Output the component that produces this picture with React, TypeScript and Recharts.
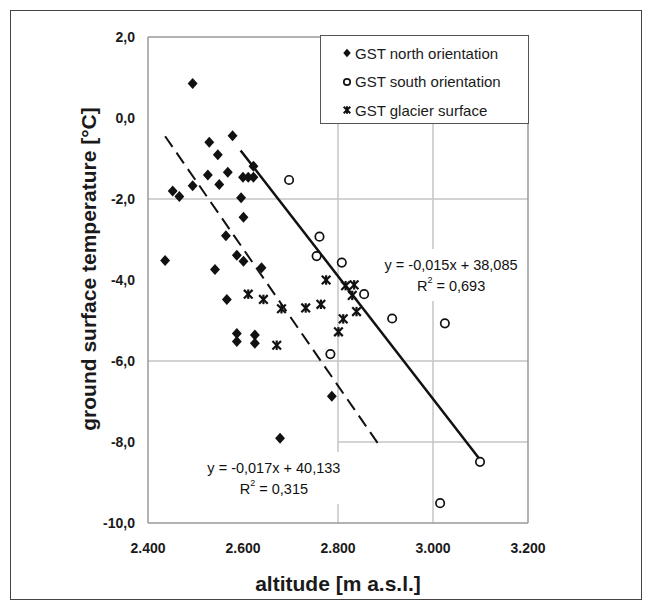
import { ScatterChart, Scatter, XAxis, YAxis, CartesianGrid, ReferenceLine, ReferenceDot, Legend } from 'recharts'

const FONT = '"Liberation Sans", Arial, sans-serif'

// ── data ─────────────────────────────────────────────────────────────────────

const xTicks = [2400, 2600, 2800, 3000, 3200]
const yTicks = [-10, -8, -6, -4, -2, 0, 2]

const northAlt = [2494, 2578, 2529, 2547, 2622, 2568, 2526, 2550, 2494, 2600, 2611, 2622, 2452, 2466, 2596,
  2601, 2564, 2436, 2587, 2601, 2541, 2639, 2566, 2587, 2587, 2625, 2625, 2787, 2678]
const northGst = [0.85, -0.44, -0.6, -0.91, -1.19, -1.34, -1.41, -1.64, -1.67, -1.46, -1.46, -1.46, -1.8, -1.94, -1.97,
  -2.45, -2.91, -3.52, -3.39, -3.54, -3.74, -3.7, -4.48, -5.32, -5.52, -5.36, -5.56, -6.87, -7.91]

const southAlt = [2697, 2761, 2755, 2808, 2855, 2914, 3025, 2784, 3099, 3015]
const southGst = [-1.53, -2.93, -3.41, -3.57, -4.35, -4.95, -5.07, -5.83, -8.49, -9.51]

const glacierAlt = [2611, 2643, 2681, 2732, 2764, 2775, 2816, 2834, 2830, 2839, 2811, 2801, 2671]
const glacierGst = [-4.35, -4.48, -4.71, -4.69, -4.6, -4.0, -4.14, -4.12, -4.38, -4.78, -4.96, -5.28, -5.61]

// linear trend lines as drawn (end points)
const northTrendAlt = [2436, 2888]
const northTrendGst = [-0.45, -8.1]
const southTrendAlt = [2595, 3100]
const southTrendGst = [-0.8, -8.45]

const seriesNames = ['GST north orientation', 'GST south orientation', 'GST glacier surface']

const eqText = ['y = -0,015x + 38,085', 'y = -0,017x + 40,133']
const r2Text = ['0,693', '0,315']
const eqAlt = [3038, 2665]
const eqGst = [-3.63, -8.64]

const zip = (xs: number[], ys: number[]) => xs.map((x, i) => ({ x, y: ys[i] }))

const northData = zip(northAlt, northGst)
const southData = zip(southAlt, southGst)
const glacierData = zip(glacierAlt, glacierGst)
const northTrend = zip(northTrendAlt, northTrendGst)
const southTrend = zip(southTrendAlt, southTrendGst)

const fmtAlt = (v: number) => v.toLocaleString('de-DE')
const fmtGst = (v: number) => v.toFixed(1).replace('.', ',')

// ── markers ──────────────────────────────────────────────────────────────────

function diamond(cx: number, cy: number, s: number) {
  return <polygon points={`${cx},${cy - s} ${cx + s * 0.9},${cy} ${cx},${cy + s} ${cx - s * 0.9},${cy}`} fill="#111" />
}
function ring(cx: number, cy: number, r: number) {
  return <circle cx={cx} cy={cy} r={r} fill="#fff" stroke="#111" strokeWidth={1.7} />
}
function star(cx: number, cy: number, s: number, w = 2.2) {
  return (
    <g stroke="#111" strokeWidth={w}>
      <line x1={cx - s} y1={cy - s} x2={cx + s} y2={cy + s} />
      <line x1={cx - s} y1={cy + s} x2={cx + s} y2={cy - s} />
      <line x1={cx} y1={cy - s * 1.1} x2={cx} y2={cy + s * 1.1} />
    </g>
  )
}

const DiamondShape = (p: any) => diamond(p.cx, p.cy, 5.5)
const RingShape = (p: any) => ring(p.cx, p.cy, 4.2)
const StarShape = (p: any) => star(p.cx, p.cy, 4.3)
const NoShape = () => <g />

const legendIcons = [
  diamond(7, 7, 4.2),
  ring(7, 7, 3.2),
  star(7, 7, 3.3, 2),
]

function LegendBox() {
  return (
    <div style={{
      border: '1.5px solid #555', background: '#fff', width: 209, height: 89, boxSizing: 'border-box',
      paddingTop: 3, fontFamily: FONT, fontSize: 15, color: '#1a1a1a'
    }}>
      {seriesNames.map((name, i) => (
        <div key={name} style={{ height: 28.5, display: 'flex', alignItems: 'center' }}>
          <svg width={14} height={14} style={{ marginLeft: 19 }}>{legendIcons[i]}</svg>
          <span style={{ marginLeft: 1 }}>{name}</span>
        </div>
      ))}
    </div>
  )
}

// ── labels ───────────────────────────────────────────────────────────────────

function eqLabel(i: number) {
  return (p: any) => {
    const { cx, cy } = p
    return (
      <g fontFamily={FONT} fontSize={14.5} fill="#111">
        <rect x={cx - 74} y={cy - 16} width={148} height={52} fill="#fff" />
        <text x={cx} y={cy} textAnchor="middle" dominantBaseline="central">{eqText[i]}</text>
        <text x={cx} y={cy + 21} textAnchor="middle" dominantBaseline="central">
          R<tspan dy={-6} fontSize={9}>2</tspan><tspan dy={6}>{` = ${r2Text[i]}`}</tspan>
        </text>
      </g>
    )
  }
}

const XTitle = (p: any) => {
  const { x, y, width } = p.viewBox
  return (
    <text x={x + width / 2} y={y + 60} textAnchor="middle" dominantBaseline="central"
      fontFamily={FONT} fontSize={21} fontWeight={700} fill="#1a1a1a">altitude [m a.s.l.]</text>
  )
}

const YTitle = (p: any) => {
  const { x, y, height } = p.viewBox
  const cx = x + 88
  const cy = y + height / 2 - 11
  return (
    <text transform={`translate(${cx},${cy}) rotate(-90)`} textAnchor="middle" dominantBaseline="central"
      fontFamily={FONT} fontSize={21} fontWeight={700} fill="#1a1a1a">ground surface temperature [°C]</text>
  )
}

const tickStyle = { fill: '#1a1a1a', fontSize: 14, fontWeight: 700, fontFamily: FONT }
const frameStroke = { stroke: '#999', strokeWidth: 1.5 }

export default function App() {
  return (
    <div style={{ position: 'absolute', left: 0, top: 0, width: 646, height: 603, background: '#fff' }}>
      <div style={{
        position: 'absolute', left: 10, top: 10, width: 632, height: 590,
        border: '1.5px solid #444', boxSizing: 'border-box'
      }} />
      <div style={{ position: 'absolute', left: 0, top: 0 }}>
        <ScatterChart width={646} height={603} margin={{ top: 37, right: 118, bottom: 30, left: 0 }}>
          <CartesianGrid horizontalValues={[-2, -6]} verticalValues={[2800, 3000]} stroke="#c4c4c4" strokeWidth={1.5} />
          <ReferenceLine segment={[{ x: 2800, y: -8 }, { x: 3200, y: -8 }]} stroke="#c4c4c4" strokeWidth={1.5} />
          <XAxis
            type="number" dataKey="x" domain={[2400, 3200]} ticks={xTicks} tickFormatter={fmtAlt}
            tickSize={0} tickMargin={20} height={50} axisLine={frameStroke} tick={tickStyle}
            allowDataOverflow label={{ content: XTitle }}
          />
          <YAxis
            type="number" dataKey="y" domain={[-10, 2]} ticks={yTicks} tickFormatter={fmtGst}
            tickSize={0} tickMargin={13} width={148} axisLine={frameStroke} tick={tickStyle}
            allowDataOverflow label={{ content: YTitle }}
          />
          <ReferenceLine y={2} {...frameStroke} />
          <ReferenceLine x={3200} {...frameStroke} />

          {eqText.map((_, i) => (
            <ReferenceDot key={i} x={eqAlt[i]} y={eqGst[i]} r={0} shape={eqLabel(i)} />
          ))}

          <Scatter data={northTrend} shape={NoShape} legendType="none" isAnimationActive={false}
            line={{ stroke: '#111', strokeWidth: 2, strokeDasharray: '13 7' }} />
          <Scatter data={southTrend} shape={NoShape} legendType="none" isAnimationActive={false}
            line={{ stroke: '#111', strokeWidth: 2.5 }} />

          <Scatter name={seriesNames[0]} data={northData} shape={DiamondShape} isAnimationActive={false} />
          <Scatter name={seriesNames[1]} data={southData} shape={RingShape} isAnimationActive={false} />
          <Scatter name={seriesNames[2]} data={glacierData} shape={StarShape} isAnimationActive={false} />

          <Legend layout="vertical" align="center" verticalAlign="middle" content={LegendBox}
            wrapperStyle={{ top: 35, left: 320, width: 209, height: 89 }} />
        </ScatterChart>
      </div>
    </div>
  )
}
